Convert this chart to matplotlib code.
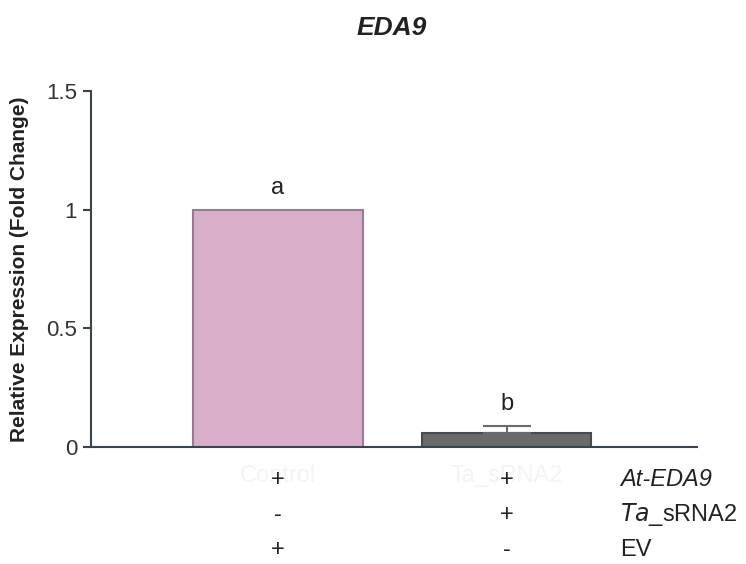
import matplotlib
matplotlib.use("Agg")
import matplotlib.pyplot as plt
from matplotlib.transforms import blended_transform_factory

plt.rcParams['font.family'] = ['Liberation Sans', 'DejaVu Sans']

categories = ["Control", "Ta_sRNA2"]
values = [1.0, 0.06]
errors = [0.0, 0.028]
letters = ["a", "b"]
row_labels = ["At-EDA9", "Ta_sRNA2", "EV"]
row_marks = [["+", "+"], ["-", "+"], ["+", "-"]]
yticks = [0, 0.5, 1, 1.5]
ytick_labels = ["0", "0.5", "1", "1.5"]

FS = 17

fig = plt.figure(figsize=(7.46, 5.64), dpi=100)
ax = fig.add_axes([0.122, 0.2074, 0.812, 0.6313])

x = list(range(len(categories)))
colors = ["#d9aec9", "#6a6a6a"]
edges = ["#9a7a90", "#4a4a4a"]
ax.bar(x, values, width=0.74, color=colors, edgecolor=edges, linewidth=1.5, zorder=2)
ax.errorbar(x[1:], values[1:], yerr=[[0], errors[1:]], fmt="none", ecolor="#6a6a6a",
            elinewidth=1.5, capsize=17, capthick=1.5, zorder=3)

for xi, v, e, l in zip(x, values, errors, letters):
    ax.text(xi, v + e + 0.045, l, ha="center", va="bottom", fontsize=FS, color="#222222")

ax.set_xlim(-0.817, 1.83)
ax.set_ylim(0, 1.5)
ax.set_yticks(yticks)
ax.set_yticklabels(ytick_labels, fontsize=16, color="#333333")
ax.set_xticks(x)
ax.set_xticklabels(categories, fontsize=FS, color="#f4f4f4")
ax.tick_params(axis="x", length=0, pad=13)
ax.tick_params(axis="y", length=6, width=1.5, color="#3a4450", pad=4)
for s in ["top", "right"]:
    ax.spines[s].set_visible(False)
ax.spines["left"].set_color("#3a4450")
ax.spines["bottom"].set_color("#3a4450")
ax.spines["left"].set_linewidth(1.5)
ax.spines["bottom"].set_linewidth(1.5)

ax.set_ylabel("Relative Expression (Fold Change)", fontsize=15, fontweight="bold", color="#222222", labelpad=12)
fig.text(392/746, 1 - 28/564, "EDA9", ha="center", va="center", fontsize=19,
         fontweight="bold", fontstyle="italic", color="#222222")

tr = blended_transform_factory(ax.transData, fig.transFigure)
row_y = [480, 515, 550]
for ry, marks in zip(row_y, row_marks):
    for xi, m in zip(x, marks):
        ax.text(xi, 1 - ry/564, m, transform=tr, ha="center", va="center", fontsize=FS, color="#222222")

fig.text(620/746, 1 - 480/564, "At-EDA9", ha="left", va="center", fontsize=FS, fontstyle="italic", color="#222222")
fig.text(620/746, 1 - 515/564, r"$\mathit{Ta}$_sRNA2", ha="left", va="center", fontsize=FS, color="#222222")
fig.text(620/746, 1 - 550/564, "EV", ha="left", va="center", fontsize=FS, color="#222222")

fig.savefig("out.png", dpi=100)
